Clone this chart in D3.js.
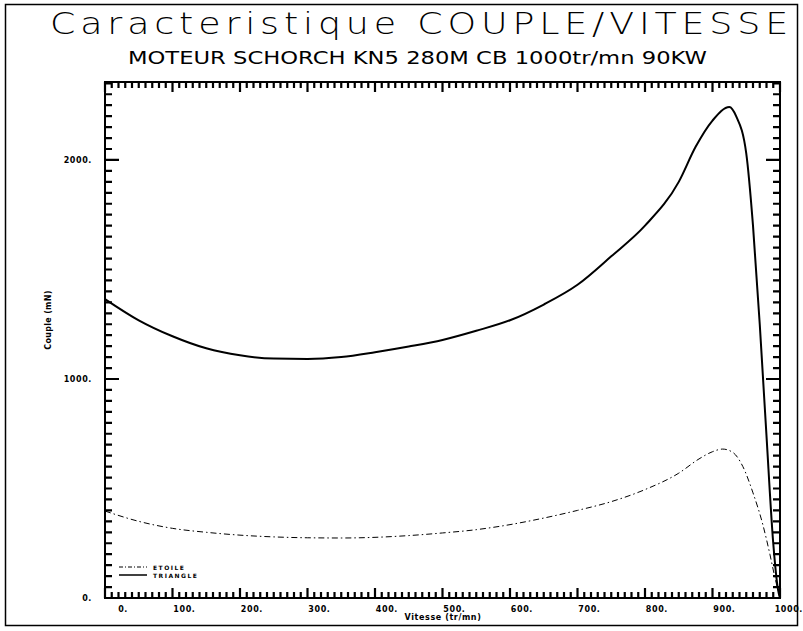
<!DOCTYPE html>
<html>
<head>
<meta charset="utf-8">
<script src="https://cdnjs.cloudflare.com/ajax/libs/d3/7.8.5/d3.min.js"></script>
<style>
  body { margin: 0; background: #fff; }
  text { fill: #000; }
</style>
</head>
<body>
<div id="g-container"></div>
<script>
	// courbe triangle (trait plein)
	var triangleV = [0, 50, 100, 150, 200, 250, 300, 350, 400, 450, 500, 550, 600, 650, 700, 750, 800, 850, 875, 900, 925, 935, 950, 960, 970, 975, 980, 990, 997, 1000]
	var triangleC = [1365, 1268, 1195, 1140, 1108, 1093, 1091, 1100, 1122, 1148, 1178, 1220, 1268, 1340, 1430, 1560, 1700, 1900, 2060, 2180, 2242, 2200, 2030, 1700, 1250, 995, 740, 250, 40, 0]
	// courbe etoile (mixte)
	var etoileV = [0, 50, 100, 150, 200, 250, 300, 350, 400, 450, 500, 550, 600, 650, 700, 750, 800, 850, 880, 900, 915, 930, 945, 960, 975, 985, 992, 1000]
	var etoileC = [397, 350, 318, 300, 287, 279, 275, 274, 277, 285, 297, 312, 335, 365, 400, 440, 495, 570, 635, 668, 680, 665, 600, 480, 330, 200, 100, 0]

	var xTicks = [0, 100, 200, 300, 400, 500, 600, 700, 800, 900, 1000]
	var yTicks = [0, 1000, 2000]
	var legendLabels = ["ETOILE", "TRIANGLE"]

	var config = { "el": "#g-container" }
	var svg_width = 803
	var svg_height = 631
	var svg = d3.select(config.el).append("svg").attr("width", svg_width).attr("height", svg_height)

	var m = { left: 105, right: 780, top: 82, bottom: 598 }
	var x = d3.scaleLinear().domain([0, 1000]).range([m.left, m.right])
	var y = d3.scaleLinear().domain([0, 2356]).range([m.bottom, m.top])

	var tickFont = "'DejaVu Sans', sans-serif"

	// cadre exterieur
	svg.append("rect").attr("x", 5.5).attr("y", 4.5).attr("width", 792).attr("height", 621)
		.attr("fill", "none").attr("stroke", "#000").attr("stroke-width", 1.5)

	// titres
	svg.append("text").attr("x", 50).attr("y", 34)
		.attr("textLength", 743).attr("lengthAdjust", "spacingAndGlyphs")
		.style("font-family", "'DejaVu Sans', sans-serif").style("font-weight", "200")
		.style("font-size", "30px").style("letter-spacing", "4px")
		.text("Caracteristique  COUPLE/VITESSE")

	svg.append("text").attr("x", 128).attr("y", 64)
		.attr("textLength", 579).attr("lengthAdjust", "spacingAndGlyphs")
		.style("font-family", "'DejaVu Sans', sans-serif")
		.style("font-size", "17px")
		.text("MOTEUR SCHORCH KN5 280M CB 1000tr/mn 90KW")

	svg.append("rect").attr("x", m.left).attr("y", m.top).attr("width", m.right - m.left).attr("height", m.bottom - m.top)
		.attr("fill", "none").attr("stroke", "#000").attr("stroke-width", 2)

	// graduations vers l'interieur sur les quatre cotes (un seul trace)
	var xMinor = d3.range(0, 1001, 10)
	var yMinor = d3.range(0, 2351, 50)
	var tp = d3.path()
	function xMarks(vals, len) {
		vals.forEach(function(d){
			tp.moveTo(x(d), m.bottom); tp.lineTo(x(d), m.bottom - len)
			tp.moveTo(x(d), m.top); tp.lineTo(x(d), m.top + len)
		})
	}
	function yMarks(vals, len) {
		vals.forEach(function(d){
			tp.moveTo(m.left, y(d)); tp.lineTo(m.left + len, y(d))
			tp.moveTo(m.right, y(d)); tp.lineTo(m.right - len, y(d))
		})
	}
	xMarks(xMinor, 6)
	xMarks(xTicks, 10)
	yMarks(yMinor, 7)
	yMarks(yTicks, 14)
	svg.append("path").attr("d", tp.toString())
		.attr("fill", "none").attr("stroke", "#000").attr("stroke-width", 2.2)

	// libelles des graduations
	svg.selectAll(".xlab").data(xTicks).enter().append("text")
		.attr("x", function(d){ return x(d) + 23 })
		.attr("y", 612)
		.attr("text-anchor", "end")
		.style("font-family", tickFont).style("font-weight", "bold").style("font-size", "8px")
		.style("letter-spacing", "0.6px")
		.text(function(d){ return d + "." })

	svg.selectAll(".ylab").data(yTicks).enter().append("text")
		.attr("x", 92)
		.attr("y", function(d){ return y(d) + 3 })
		.attr("text-anchor", "end")
		.style("font-family", tickFont).style("font-weight", "bold").style("font-size", "8px")
		.style("letter-spacing", "0.6px")
		.text(function(d){ return d + "." })

	svg.append("text").attr("x", 443).attr("y", 620).attr("text-anchor", "middle")
		.style("font-family", tickFont).style("font-weight", "bold").style("font-size", "8px")
		.style("letter-spacing", "0.6px")
		.text("Vitesse (tr/mn)")

	svg.append("text").attr("transform", "translate(51,320) rotate(-90)").attr("text-anchor", "middle")
		.style("font-family", tickFont).style("font-weight", "bold").style("font-size", "8px")
		.style("letter-spacing", "0.3px")
		.text("Couple (mN)")

	// courbes
	var line = d3.line().x(function(d){ return x(d[0]) }).y(function(d){ return y(d[1]) }).curve(d3.curveMonotoneX)

	svg.append("path").datum(d3.zip(etoileV, etoileC)).attr("d", line)
		.attr("fill", "none").attr("stroke", "#000").attr("stroke-width", 1)
		.attr("stroke-dasharray", "6,3,1.5,3")

	svg.append("path").datum(d3.zip(triangleV, triangleC)).attr("d", line)
		.attr("fill", "none").attr("stroke", "#000").attr("stroke-width", 2)

	// legende
	var leg = svg.selectAll(".leg").data(legendLabels).enter().append("g")
		.attr("transform", function(d, i){ return "translate(119," + (567 + i * 8) + ")" })
	leg.append("line").attr("x1", 0).attr("x2", 28).attr("y1", 0).attr("y2", 0)
		.attr("stroke", "#000")
		.attr("stroke-width", function(d, i){ return i == 0 ? 1 : 1.5 })
		.attr("stroke-dasharray", function(d, i){ return i == 0 ? "4,2,1,2" : null })
	leg.append("text").attr("x", 34).attr("y", 2.5)
		.style("font-family", tickFont).style("font-weight", "bold").style("font-size", "6px")
		.style("letter-spacing", "1.5px")
		.text(function(d){ return d })
</script>
</body>
</html>
